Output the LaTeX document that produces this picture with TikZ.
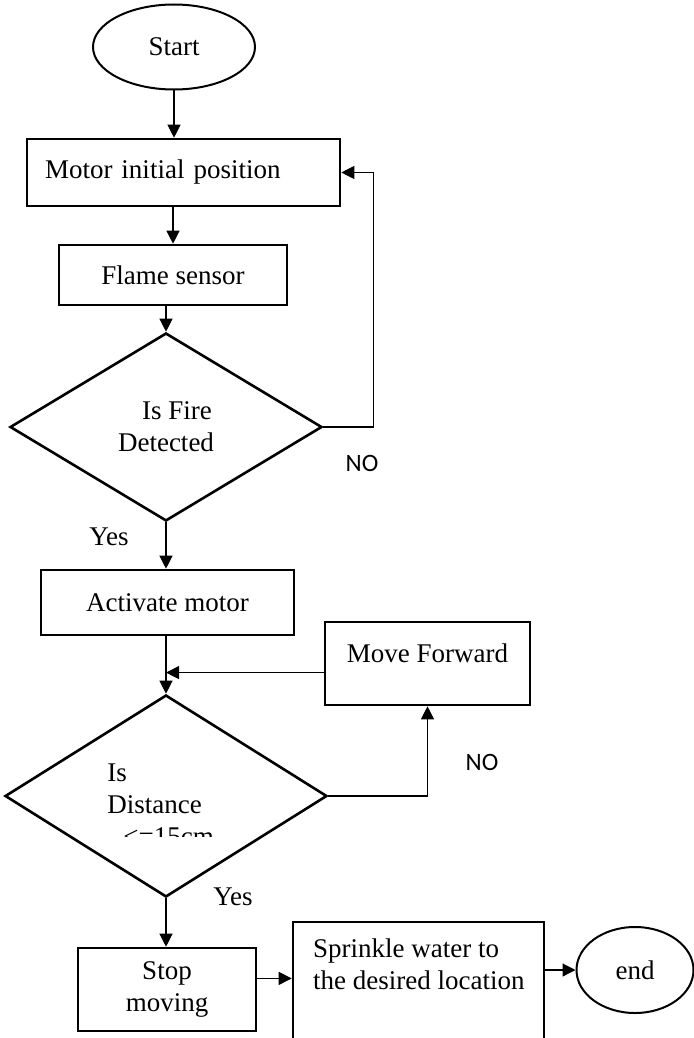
\documentclass[tikz,border=0pt]{standalone}
\usepackage{fontspec}
\setmainfont{Liberation Serif}
\newfontfamily\nofont{Carlito}
\usetikzlibrary{arrows.meta,calc,shapes.geometric}
\tikzset{arr/.style={line width=0.6pt, -{Triangle[length=6.5pt,width=6.5pt]}},
  blk/.style={draw, line width=1.3pt, inner sep=0pt},
  term/.style={draw, ellipse, line width=1pt, inner sep=0pt},
  dec/.style={draw, diamond, line width=1.3pt, inner sep=0pt},
  yn/.style={font=\nofont\fontsize{12.5}{15}\selectfont}}

\begin{document}
\begin{tikzpicture}[x=0.5pt, y=-0.5pt, font=\fontsize{13.5}{16}\selectfont]
  \useasboundingbox (0,0) rectangle (694,1038);
  % main column
  \node[term, minimum width=81pt, minimum height=42.5pt] (start) at (174,47) {Start};
  \node[blk, minimum width=156.5pt, minimum height=33.5pt, text width=138.5pt, align=left] (motor) at (183.5,172.5) {Motor initial position};
  \node[blk, minimum width=114pt, minimum height=30pt] (flame) at (173,275) {Flame sensor};
  \node[dec, minimum width=156pt, minimum height=94pt, align=center] (fire) at (166,427) {\hspace*{11pt}Is Fire\\Detected};
  \node[blk, minimum width=126.5pt, minimum height=32.5pt] (activate) at (167.5,602.5) {Activate motor};
  \node[blk, minimum width=102.5pt, minimum height=41.5pt, label={[name=movetxt, yshift=5pt]center:Move Forward}] (move) at (427.5,663.5) {};
  \node[dec, minimum width=161pt, minimum height=101pt] (dist) at (166,796) {};
  % text of the second test, cut at the bottom
  \begin{scope}
    \clip (100,740) rectangle (300,836);
    \node[anchor=north west, align=left, inner sep=0pt] (disttxt) at (107,763) {Is\\Distance\\\hspace*{8pt}\textless=15cm};
  \end{scope}
  \node[blk, minimum width=89pt, minimum height=41.5pt, align=center] (stop) at (167,989.5) {Stop\\moving};
  \node[blk, minimum width=125.5pt, minimum height=62pt] (sprinkle) at (418.5,984) {};
  \node[anchor=north west, align=left, inner sep=0pt] (sprinkletxt) at ([shift={(21,18)}]sprinkle.north west) {Sprinkle water to\\the desired location};
  \node[term, minimum width=58.5pt, minimum height=43pt] (finish) at (635,970) {end};
  % branch labels
  \node[yn] (nofire) at (362,463) {NO};
  \node (yesfire) at (109,537) {Yes};
  \node[yn] (nodist) at (482,762) {NO};
  \node (yesdist) at (233,897) {Yes};
  % connectors
  \draw[arr] (start.south) -- (start.south |- motor.north);
  \draw[arr] (flame.north |- motor.south) -- (flame.north);
  \draw[arr] (fire.north |- flame.south) -- (fire.north);
  \draw[arr] (fire.east) -- ++(50,0) |- (motor.east);
  \draw[arr] (fire.south) -- (fire.south |- activate.north);
  \draw[arr] (dist.north |- activate.south) -- (dist.north);
  \draw[arr] (move.185) -- (move.185 -| dist.north);
  \draw[arr] (dist.east) -| (move.south);
  \draw[arr] (dist.south) -- (dist.south |- stop.north);
  \draw[arr] (stop.7) -- (stop.7 -| sprinkle.west);
  \draw[arr] (sprinkle.east |- finish.west) -- (finish.west);
\end{tikzpicture}
\end{document}
